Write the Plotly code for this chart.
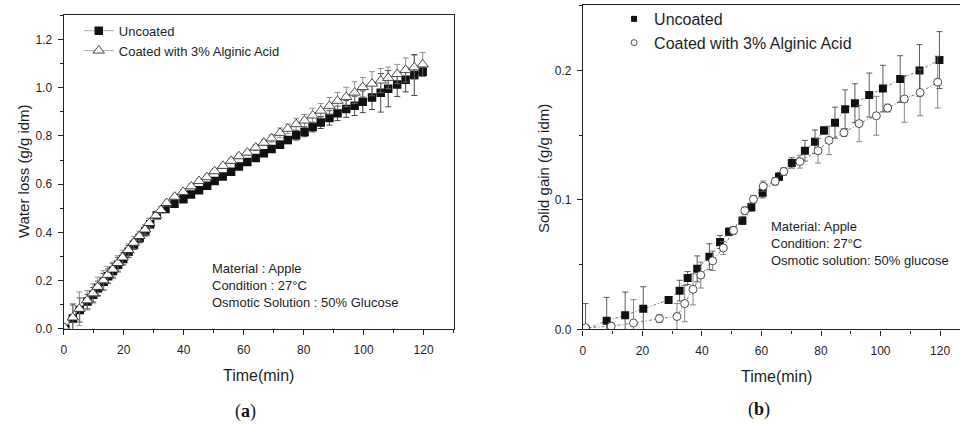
import plotly.graph_objects as go

# ---------------- Panel (a): Water loss ----------------
a_unc_t = [0.5, 3.0, 5.3, 7.9, 9.8, 11.4, 13.3, 14.8, 16.4, 18.1, 19.8, 21.6, 23.4, 25.3, 27.2, 28.8,
           31.0, 33.9, 36.9, 39.9, 42.4, 45.1, 47.8, 50.3, 53.0, 55.8, 58.4, 61.2, 64.0, 66.7, 69.3,
           72.1, 74.7, 77.5, 80.3, 83.0, 85.7, 88.6, 91.3, 94.2, 97.0, 99.7, 102.8, 105.7, 108.2,
           111.2, 114.0, 116.9, 119.7]
a_unc_y = [0.0, 0.043, 0.078, 0.113, 0.141, 0.168, 0.195, 0.218, 0.240, 0.266, 0.290, 0.320, 0.349, 0.377, 0.405, 0.434,
           0.471, 0.497, 0.519, 0.538, 0.557, 0.575, 0.594, 0.613, 0.632, 0.652, 0.673, 0.692, 0.709, 0.728, 0.746,
           0.764, 0.783, 0.803, 0.817, 0.837, 0.856, 0.875, 0.894, 0.912, 0.925, 0.942, 0.960, 0.979, 0.996,
           1.014, 1.033, 1.053, 1.067]
a_unc_err = [0.0, 0.06, 0.05, 0.03, 0.03, 0.03, 0.035, 0.03, 0.03, 0.03,
             0.025, 0.025, 0.02, 0.02, 0.02, 0.015, 0.01, 0.01, 0.01, 0.01,
             0.008, 0.008, 0.008, 0.008, 0.008, 0.008, 0.008, 0.008, 0.008, 0.01,
             0.012, 0.015, 0.015, 0.02, 0.02, 0.02, 0.025, 0.03, 0.03, 0.035,
             0.04, 0.045, 0.05, 0.08, 0.075, 0.05, 0.05, 0.085, 0.02]

a_coat_t = [0.3, 3.0, 5.2, 7.8, 9.7, 11.3, 13.2, 14.6, 16.3, 18.0, 19.6, 21.5, 23.3, 25.2, 27.1, 28.5,
            30.7, 32.4, 34.3, 37.0, 39.8, 42.5, 45.1, 47.7, 50.3, 53.1, 55.8, 58.4, 61.2, 64.0, 66.7,
            69.3, 72.1, 74.7, 77.5, 80.3, 83.0, 85.7, 88.6, 91.3, 94.2, 97.0, 99.7, 102.8, 105.7,
            108.2, 111.2, 114.0, 116.9, 119.7]
a_coat_y = [0.004, 0.047, 0.083, 0.118, 0.147, 0.174, 0.201, 0.224, 0.246, 0.273, 0.296, 0.327, 0.357, 0.385, 0.412, 0.439,
            0.470, 0.493, 0.522, 0.548, 0.568, 0.591, 0.613, 0.629, 0.654, 0.676, 0.697, 0.716, 0.731, 0.752, 0.772,
            0.790, 0.813, 0.830, 0.849, 0.864, 0.885, 0.905, 0.925, 0.946, 0.962, 0.980, 1.003, 1.017, 1.030,
            1.041, 1.057, 1.074, 1.085, 1.097]
a_coat_err = [0.0, 0.05, 0.07, 0.04, 0.04, 0.04, 0.04, 0.035, 0.03, 0.03,
              0.03, 0.025, 0.025, 0.02, 0.02, 0.02, 0.015, 0.015, 0.012, 0.01,
              0.01, 0.01, 0.01, 0.01, 0.01, 0.01, 0.01, 0.01, 0.01, 0.012,
              0.012, 0.015, 0.02, 0.02, 0.025, 0.025, 0.03, 0.03, 0.035, 0.035,
              0.04, 0.045, 0.04, 0.05, 0.05, 0.045, 0.04, 0.05, 0.05, 0.05]

# ---------------- Panel (b): Solid gain ----------------
b_unc_t = [0.9, 8.0, 14.2, 20.3, 28.8, 32.5, 35.2, 38.4, 42.5, 46.1,
           49.1, 53.6, 56.6, 60.4, 65.9, 70.2, 74.6, 78.0, 81.0, 84.7,
           88.1, 91.4, 96.2, 100.8, 106.6, 113.1, 119.8]
b_unc_y = [0.0, 0.0068, 0.0109, 0.016, 0.0228, 0.030, 0.0397, 0.0468, 0.0562, 0.0676,
           0.0754, 0.084, 0.0944, 0.1056, 0.118, 0.1286, 0.138, 0.145, 0.1537, 0.1597,
           0.170, 0.1747, 0.181, 0.186, 0.1934, 0.200, 0.208]
b_unc_err = [0.02, 0.018, 0.018, 0.017, 0.002, 0.008, 0.005, 0.01, 0.01, 0.005,
             0.003, 0.003, 0.003, 0.004, 0.003, 0.004, 0.008, 0.009, 0.003, 0.012,
             0.015, 0.015, 0.017, 0.018, 0.018, 0.02, 0.022]

b_coat_t = [0.9, 9.5, 17.0, 25.7, 31.6, 34.2, 37.0, 39.6, 43.6, 47.2,
            50.6, 54.4, 57.3, 60.6, 64.6, 67.5, 72.9, 79.0, 82.7, 87.7,
            92.8, 98.6, 102.4, 108.0, 113.3, 119.2]
b_coat_y = [0.0013, 0.0025, 0.005, 0.0084, 0.010, 0.020, 0.031, 0.042, 0.053, 0.063,
            0.0765, 0.0917, 0.1005, 0.1106, 0.1144, 0.122, 0.1296, 0.138, 0.146, 0.152,
            0.159, 0.165, 0.171, 0.178, 0.183, 0.191]
b_coat_err = [0.0, 0.003, 0.018, 0.003, 0.01, 0.014, 0.012, 0.01, 0.0075, 0.005,
              0.003, 0.003, 0.003, 0.004, 0.003, 0.003, 0.005, 0.0095, 0.011, 0.003,
              0.014, 0.015, 0.003, 0.018, 0.018, 0.02]

series_names = ["Uncoated", "Coated with 3% Alginic Acid"]
x_ticks = [0, 20, 40, 60, 80, 100, 120]
a_y_ticks = [0.0, 0.2, 0.4, 0.6, 0.8, 1.0, 1.2]
b_y_ticks = [0.0, 0.1, 0.2]

FONT = "Liberation Sans, Arial, sans-serif"
TXT = "#1e1e1e"

fig = go.Figure()

# Panel a traces
fig.add_trace(go.Scatter(
    x=a_unc_t, y=a_unc_y, name=series_names[0], mode="lines+markers",
    line=dict(color="#999999", width=0.8),
    marker=dict(symbol="square", size=8.5, color="#111111", line=dict(width=0)),
    error_y=dict(type="data", array=a_unc_err, color="#333333", thickness=0.9, width=3),
    xaxis="x", yaxis="y", legend="legend"))
fig.add_trace(go.Scatter(
    x=a_coat_t, y=a_coat_y, name=series_names[1], mode="lines+markers",
    line=dict(color="#999999", width=0.8),
    marker=dict(symbol="triangle-up", size=10, color="white", line=dict(width=0.8, color="#222222")),
    error_y=dict(type="data", array=a_coat_err, color="#777777", thickness=0.8, width=3),
    xaxis="x", yaxis="y", legend="legend"))

# Panel b traces
fig.add_trace(go.Scatter(
    x=b_unc_t, y=b_unc_y, name=series_names[0], mode="lines+markers", showlegend=False,
    line=dict(color="#555555", width=0.8, dash="3px,2px,1px,2px"),
    marker=dict(symbol="square", size=8, color="#111111", line=dict(width=0)),
    error_y=dict(type="data", array=b_unc_err, color="#333333", thickness=0.8, width=3),
    xaxis="x2", yaxis="y2"))
fig.add_trace(go.Scatter(
    x=b_coat_t, y=b_coat_y, name=series_names[1], mode="lines+markers", showlegend=False,
    line=dict(color="#555555", width=0.8, dash="3px,2px,1px,2px"),
    marker=dict(symbol="circle", size=8, color="white", line=dict(width=0.8, color="#222222")),
    error_y=dict(type="data", array=b_coat_err, color="#666666", thickness=0.8, width=3),
    xaxis="x2", yaxis="y2"))
# legend entries for panel b (markers only, smaller symbols)
fig.add_trace(go.Scatter(
    x=[None], y=[None], name=series_names[0], mode="markers",
    marker=dict(symbol="square", size=6, color="#111111"),
    xaxis="x2", yaxis="y2", legend="legend2"))
fig.add_trace(go.Scatter(
    x=[None], y=[None], name=series_names[1], mode="markers",
    marker=dict(symbol="circle", size=6, color="white", line=dict(width=0.8, color="#222222")),
    xaxis="x2", yaxis="y2", legend="legend2"))

axis_common = dict(
    showline=True, linecolor="#222222", linewidth=1.2, ticks="outside", ticklen=5,
    tickwidth=1, tickcolor="#222222", showgrid=False, zeroline=False,
    tickfont=dict(family=FONT, size=12, color=TXT),
)

W, H = 960, 425
ax_l, ax_r, ax_t, ax_b = 61, 452, 15, 334.3
bx_l, bx_r, bx_t, bx_b = 581.7, 960, 5, 335

fig.update_layout(
    width=W, height=H, margin=dict(l=0, r=0, t=0, b=0),
    paper_bgcolor="white", plot_bgcolor="white",
    font=dict(family=FONT, color=TXT),
    xaxis=dict(domain=[ax_l / W, ax_r / W], range=[0, 130], tickvals=x_ticks,
               minor=dict(dtick=10, ticks="outside", ticklen=3, tickcolor="#222222"),
               mirror=True, anchor="y", ticklabelstandoff=5, **axis_common),
    yaxis=dict(domain=[1 - ax_b / H, 1 - ax_t / H], range=[0, 1.303], tickvals=a_y_ticks,
               tickformat=".1f",
               minor=dict(dtick=0.1, ticks="outside", ticklen=3, tickcolor="#222222"),
               mirror=True, anchor="x", ticklabelstandoff=3, **axis_common),
    xaxis2=dict(domain=[bx_l / W, bx_r / W], range=[0, 126.7], tickvals=x_ticks,
                minor=dict(dtick=10, ticks="outside", ticklen=3, tickcolor="#222222"),
                mirror=True, anchor="y2", ticklabelstandoff=5, **axis_common),
    yaxis2=dict(domain=[1 - bx_b / H, 1 - bx_t / H], range=[0, 0.2506], tickvals=b_y_ticks,
                tickformat=".1f",
                minor=dict(dtick=0.05, ticks="outside", ticklen=3, tickcolor="#222222"),
                mirror=False, anchor="x2", ticklabelstandoff=3, **axis_common),
    legend=dict(x=76 / W, y=1 - 16 / H, xanchor="left", yanchor="top",
                bgcolor="rgba(0,0,0,0)", font=dict(family=FONT, size=13, color=TXT),
                itemwidth=30, tracegroupgap=0),
    legend2=dict(x=613 / W, y=1 - 2 / H, xanchor="left", yanchor="top",
                 bgcolor="rgba(0,0,0,0)", font=dict(family=FONT, size=16, color=TXT),
                 itemwidth=30, tracegroupgap=0),
    showlegend=True,
)

annotations = [
    # axis titles
    dict(text="Time(min)", x=(ax_l + ax_r) / 2 / W, y=1 - 382 / H, xref="paper", yref="paper",
         showarrow=False, font=dict(size=16, family=FONT, color=TXT), xanchor="center", yanchor="middle"),
    dict(text="Water loss (g/g idm)", x=20 / W, y=1 - 174 / H, xref="paper", yref="paper",
         showarrow=False, textangle=-90, font=dict(size=15, family=FONT, color=TXT),
         xanchor="center", yanchor="middle"),
    dict(text="Time(min)", x=776 / W, y=1 - 383 / H, xref="paper", yref="paper",
         showarrow=False, font=dict(size=16, family=FONT, color=TXT), xanchor="center", yanchor="middle"),
    dict(text="Solid gain (g/g idm)", x=542 / W, y=1 - 171.5 / H, xref="paper", yref="paper",
         showarrow=False, textangle=-90, font=dict(size=15, family=FONT, color=TXT),
         xanchor="center", yanchor="middle"),
    # condition notes
    dict(text="Material : Apple<br>Condition : 27°C<br>Osmotic Solution : 50% Glucose",
         x=208 / W, y=1 - 263 / H, xref="paper", yref="paper", showarrow=False, align="left",
         xanchor="left", yanchor="top", font=dict(size=13, family=FONT, color=TXT)),
    dict(text="Material: Apple<br>Condition: 27°C<br>Osmotic solution: 50% glucose",
         x=768 / W, y=1 - 221 / H, xref="paper", yref="paper", showarrow=False, align="left",
         xanchor="left", yanchor="top", font=dict(size=13, family=FONT, color=TXT)),
    # panel labels
    dict(text="(<b>a</b>)", x=243 / W, y=1 - 418 / H, xref="paper", yref="paper", showarrow=False,
         font=dict(size=18, family="Liberation Serif, Times New Roman, serif", color="#111111"),
         xanchor="center", yanchor="middle"),
    dict(text="(<b>b</b>)", x=758 / W, y=1 - 416 / H, xref="paper", yref="paper", showarrow=False,
         font=dict(size=18, family="Liberation Serif, Times New Roman, serif", color="#111111"),
         xanchor="center", yanchor="middle"),
]
fig.update_layout(annotations=annotations)

fig.write_html("out.html")
